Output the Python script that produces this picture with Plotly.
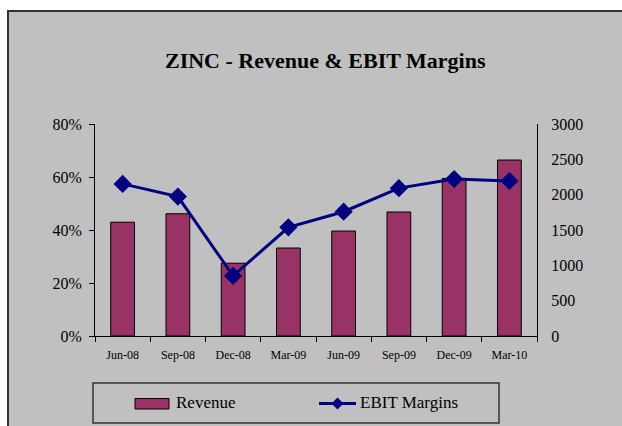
import plotly.graph_objects as go

# ---- data ----
quarters = ["Jun-08", "Sep-08", "Dec-08", "Mar-09", "Jun-09", "Sep-09", "Dec-09", "Mar-10"]
revenue = [1610, 1730, 1030, 1245, 1485, 1755, 2230, 2490]
ebit_margin = [0.574, 0.526, 0.227, 0.410, 0.469, 0.558, 0.592, 0.585]
left_ticks = [0, 0.2, 0.4, 0.6, 0.8]
right_ticks = [0, 500, 1000, 1500, 2000, 2500, 3000]

W, H = 622, 426
ML, MR, MT, MB = 95, 85, 124, 90
PW, PH = W - ML - MR, H - MT - MB
SERIF = "Liberation Serif, Times New Roman, serif"
BAR_COLOR = "#993366"
LINE_COLOR = "#000080"
BG = "#C0C0C0"


def px(x):
    return (x - ML) / PW


def py(y):
    return (H - MB - y) / PH


fig = go.Figure()
fig.add_trace(go.Bar(
    x=quarters, y=revenue, name="Revenue", yaxis="y", width=0.43,
    marker=dict(color=BAR_COLOR, line=dict(color="black", width=1)),
    showlegend=False,
))
fig.add_trace(go.Scatter(
    x=quarters, y=ebit_margin, name="EBIT Margins", yaxis="y2", mode="lines+markers",
    line=dict(color=LINE_COLOR, width=3),
    marker=dict(symbol="diamond", size=14, color=LINE_COLOR),
    showlegend=False,
))

shapes = [
    # outer chart area
    dict(type="rect", xref="paper", yref="paper", layer="below",
         x0=px(8), x1=px(800), y0=py(600), y1=py(11),
         fillcolor=BG, line=dict(color="#333333", width=2)),
    # legend box
    dict(type="rect", xref="paper", yref="paper",
         x0=px(93), x1=px(499), y0=py(423), y1=py(383),
         fillcolor=BG, line=dict(color="#333333", width=1.5)),
    # revenue swatch
    dict(type="rect", xref="paper", yref="paper",
         x0=px(135), x1=px(169), y0=py(409), y1=py(398.5),
         fillcolor=BAR_COLOR, line=dict(color="black", width=1)),
    # EBIT line swatch
    dict(type="line", xref="paper", yref="paper",
         x0=px(319), x1=px(356), y0=py(403.5), y1=py(403.5),
         line=dict(color=LINE_COLOR, width=3)),
    dict(type="path", xref="paper", yref="paper",
         path="M {a},{b} L {c},{d} L {e},{f} L {g},{h} Z".format(
             a=px(331.5), b=py(403.5), c=px(337.5), d=py(397.5),
             e=px(343.5), f=py(403.5), g=px(337.5), h=py(409.5)),
         fillcolor=LINE_COLOR, line=dict(color=LINE_COLOR, width=0)),
]

annotations = [
    dict(text="<b>ZINC - Revenue &amp; EBIT Margins</b>", xref="paper", yref="paper",
         x=px(325), y=py(60), xanchor="center", yanchor="middle", showarrow=False,
         font=dict(family=SERIF, size=22, color="black")),
    dict(text="Revenue", xref="paper", yref="paper", x=px(174), y=py(402.5),
         xanchor="left", yanchor="middle", showarrow=False,
         font=dict(family=SERIF, size=17, color="black")),
    dict(text="EBIT Margins", xref="paper", yref="paper", x=px(358), y=py(402.5),
         xanchor="left", yanchor="middle", showarrow=False,
         font=dict(family=SERIF, size=17, color="black")),
]

fig.update_layout(
    width=W, height=H,
    margin=dict(l=ML, r=MR, t=MT, b=MB, pad=0),
    paper_bgcolor="white", plot_bgcolor=BG,
    showlegend=False,
    shapes=shapes, annotations=annotations,
    xaxis=dict(type="category", range=[-0.5, 7.5], showline=True, linecolor="black", linewidth=1,
               ticks="outside", tickson="boundaries", ticklen=5, tickcolor="black",
               tickfont=dict(family=SERIF, size=12, color="black"), ticklabelstandoff=8,
               showgrid=False, zeroline=False, fixedrange=True),
    yaxis=dict(side="right", range=[0, 3000], tickvals=right_ticks, showline=True,
               linecolor="black", linewidth=1, ticks="", showgrid=False, zeroline=False,
               tickfont=dict(family=SERIF, size=16, color="black"), ticklabelstandoff=10),
    yaxis2=dict(overlaying="y", side="left", range=[0, 0.8], tickvals=left_ticks,
                tickformat=".0%", showline=True, linecolor="black", linewidth=1,
                ticks="outside", ticklen=5, tickcolor="black", showgrid=False, zeroline=False,
                tickfont=dict(family=SERIF, size=16, color="black"), ticklabelstandoff=4),
)

fig.write_html(
    "out.html",
    config={"displayModeBar": False},
    post_script="document.body.style.margin='0px';document.body.style.overflow='hidden';",
)
